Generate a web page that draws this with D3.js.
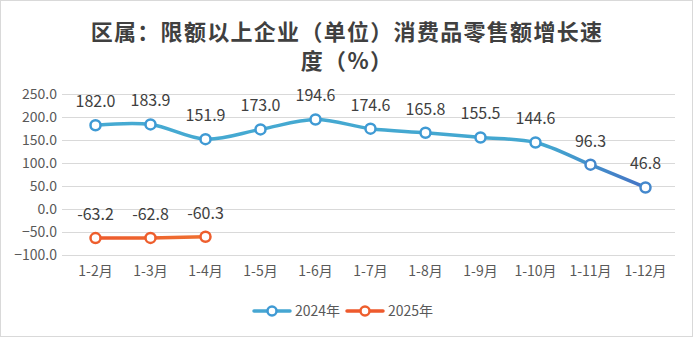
<!DOCTYPE html>
<html><head><meta charset="utf-8">
<script src="https://cdn.jsdelivr.net/npm/d3@7"></script>
<style>body{margin:0;background:#fff}svg{display:block}</style>
</head><body>
<script>
const categories = ["1-2月","1-3月","1-4月","1-5月","1-6月","1-7月","1-8月","1-9月","1-10月","1-11月","1-12月"];
const series2024 = [182.0,183.9,151.9,173.0,194.6,174.6,165.8,155.5,144.6,96.3,46.8];
const series2025 = [-63.2,-62.8,-60.3];
const yTicks = [-100,-50,0,50,100,150,200,250];
const titleLines = ["区属：限额以上企业（单位）消费品零售额增长速","度（%）"];
const legendNames = ["2024年","2025年"];

const W=694,H=338;
const font='"Noto Sans CJK SC","Noto Sans",sans-serif';
const svg=d3.select("body").append("svg").attr("width",W).attr("height",H);
svg.append("rect").attr("x",0.5).attr("y",0.5).attr("width",W-2).attr("height",H-2).attr("fill","#fff").attr("stroke","#d9d9d9");

const defs=svg.append("defs");
const x=d3.scaleBand().domain(categories).range([68,673]);
const y=d3.scaleLinear().domain([-100,250]).range([255,94]);
const cx=d=>x(d)+x.bandwidth()/2;

const g1=defs.append("linearGradient").attr("id","g24").attr("gradientUnits","userSpaceOnUse")
  .attr("x1",cx(categories[0])).attr("x2",cx(categories[10])).attr("y1",0).attr("y2",0);
g1.append("stop").attr("offset",0).attr("stop-color","#46aad2");
g1.append("stop").attr("offset",0.82).attr("stop-color","#43a7d0");
g1.append("stop").attr("offset",1).attr("stop-color","#4472c4");
const g2=defs.append("linearGradient").attr("id","g25").attr("gradientUnits","userSpaceOnUse")
  .attr("x1",cx(categories[0])).attr("x2",cx(categories[2])).attr("y1",0).attr("y2",0);
g2.append("stop").attr("offset",0).attr("stop-color","#ed5a2c");
g2.append("stop").attr("offset",1).attr("stop-color","#ef7030");

// grid
svg.append("g").selectAll("line").data(yTicks).join("line")
  .attr("x1",62).attr("x2",675).attr("y1",d=>Math.round(y(d))+0.5).attr("y2",d=>Math.round(y(d))+0.5)
  .attr("stroke","#d9d9d9").attr("stroke-width",1);

// y axis labels
const yAxis=d3.axisLeft(y).tickValues(yTicks).tickFormat(d3.format(".1f")).tickSize(0).tickPadding(0);
const ya=svg.append("g").attr("transform","translate(57,0)").call(yAxis);
ya.select(".domain").remove();
ya.selectAll("text").attr("font-family",font).attr("font-size",14).attr("fill","#595959");

// x axis labels
const xAxis=d3.axisBottom(x).tickSize(0).tickPadding(0);
const xa=svg.append("g").attr("transform","translate(0,266)").call(xAxis);
xa.select(".domain").remove();
xa.selectAll("text").attr("font-family",font).attr("font-size",14).attr("fill","#595959");

const line=d3.line().x((d,i)=>cx(categories[i])).y(d=>y(d)).curve(d3.curveCatmullRom.alpha(0.5));
function drawSeries(data,grad,mcol){
  svg.append("path").datum(data).attr("d",line).attr("fill","none").attr("stroke",`url(#${grad})`)
    .attr("stroke-width",3.5).attr("stroke-linecap","round");
  svg.append("g").selectAll("circle").data(data).join("circle")
    .attr("cx",(d,i)=>cx(categories[i])).attr("cy",d=>y(d)).attr("r",5)
    .attr("fill","#fff").attr("stroke",mcol).attr("stroke-width",2.5);
  svg.append("g").selectAll("text").data(data).join("text")
    .attr("x",(d,i)=>cx(categories[i])).attr("y",d=>y(d)-18)
    .attr("text-anchor","middle").attr("font-family",font).attr("font-size",16).attr("fill","#404040")
    .text(d=>d.toFixed(1));
}
drawSeries(series2024,"g24",(d,i)=>i>=9?"#4488cc":"#3f9ad4");
drawSeries(series2025,"g25","#ee5e2d");

// title
svg.append("g").selectAll("text").data(titleLines).join("text")
  .attr("x",W/2).attr("y",(d,i)=>40+i*29).attr("text-anchor","middle")
  .attr("font-family",font).attr("font-weight","bold").attr("font-size",22).attr("letter-spacing",1.3)
  .attr("fill","#404040")
  .text(d=>d);

// legend
const lg=[{n:legendNames[0],c:"#46a6d2",m:"#3f9ad4",x:254},{n:legendNames[1],c:"#ee5a2d",m:"#ee5e2d",x:347}];
const L=svg.append("g").selectAll("g").data(lg).join("g").attr("transform",d=>`translate(${d.x},311)`);
L.append("line").attr("x1",0).attr("x2",36).attr("stroke",d=>d.c).attr("stroke-width",3.5).attr("stroke-linecap","round");
L.append("circle").attr("cx",18).attr("r",4.5).attr("fill","#fff").attr("stroke",d=>d.m).attr("stroke-width",2.5);
L.append("text").attr("x",41).attr("y",5).attr("font-family",font).attr("font-size",14).attr("fill","#595959").text(d=>d.n);
</script>
</body></html>
